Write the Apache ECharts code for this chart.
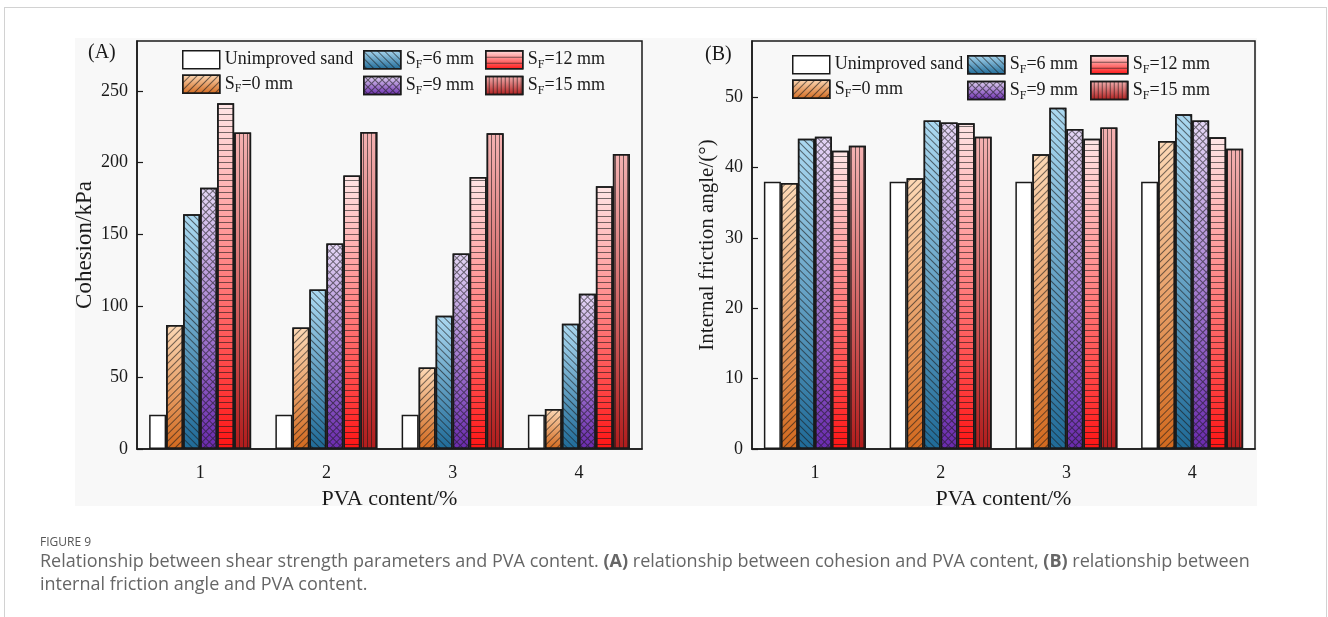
<!DOCTYPE html>
<html>
<head>
<meta charset="utf-8">
<script src="https://cdn.jsdelivr.net/npm/echarts@6/dist/echarts.min.js"></script>
<style>
  html, body { margin: 0; padding: 0; background: #ffffff; }
  #frame { position: absolute; left: 4px; top: 7px; width: 1323px; height: 660px; border: 1px solid #d2d2d2; box-sizing: border-box; }
  #chart { position: absolute; left: 0; top: 0; width: 1328px; height: 617px; }
</style>
</head>
<body>
<div id="frame"></div>
<div id="chart"></div>
<script>
// PVA content categories (x axis)
const pvaContent = ['1', '2', '3', '4'];

// Series names (SF = fibre length)
const seriesNames = ['Unimproved sand', 'SF=0 mm', 'SF=6 mm', 'SF=9 mm', 'SF=12 mm', 'SF=15 mm'];

// (A) Cohesion / kPa
const cohesionUnimproved = [24, 24, 24, 24];
const cohesionSF0  = [86.6, 84.8, 57, 28];
const cohesionSF6  = [164, 111.5, 93, 87.5];
const cohesionSF9  = [182.5, 143.5, 136.5, 108.5];
const cohesionSF12 = [241.5, 191, 190, 183.5];
const cohesionSF15 = [221, 221.5, 220.5, 206];

// (B) Internal friction angle / (°)
const frictionUnimproved = [38, 38, 38, 38];
const frictionSF0  = [37.8, 38.5, 41.9, 43.8];
const frictionSF6  = [44.1, 46.7, 48.5, 47.6];
const frictionSF9  = [44.4, 46.4, 45.5, 46.7];
const frictionSF12 = [42.4, 46.3, 44.1, 44.3];
const frictionSF15 = [43.1, 44.4, 45.7, 42.7];

const SERIF = 'Liberation Serif';
const INK = '#1a1a1a';
const HATCH = 'rgba(25,25,25,0.6)';

function vGrad(top, bottom) {
  return new echarts.graphic.LinearGradient(0, 0, 0, 1, [
    { offset: 0, color: top }, { offset: 1, color: bottom }
  ]);
}

// fill + hatch per series
const styles = [
  { color: '#ffffff', decal: null },
  { color: vGrad('#fdd9b6', '#d2691e'),
    decal: { symbol: 'rect', symbolSize: 1, color: HATCH, dashArrayX: [1, 0], dashArrayY: [1, 4], rotation: -Math.PI / 4 } },
  { color: vGrad('#acd9f1', '#1f6a97'),
    decal: { symbol: 'rect', symbolSize: 1, color: HATCH, dashArrayX: [1, 0], dashArrayY: [1, 4], rotation: Math.PI / 4 } },
  { color: vGrad('#e4d6f5', '#6a2aae'),
    decal: { symbol: 'rect', symbolSize: 1, color: HATCH, dashArrayX: [[5, 0], [1, 4], [1, 4], [1, 4], [1, 4]], dashArrayY: [1, 0], rotation: Math.PI / 4 } },
  { color: vGrad('#ffe6e6', '#ff1414'),
    decal: { symbol: 'rect', symbolSize: 1, color: HATCH, dashArrayX: [1, 0], dashArrayY: [1, 5], rotation: 0 } },
  { color: vGrad('#f4b2b2', '#b01c1c'),
    decal: { symbol: 'rect', symbolSize: 1, color: HATCH, dashArrayX: [1, 0], dashArrayY: [1, 3], rotation: Math.PI / 2 } }
];

function makeSeries(idx, values, axisIndex) {
  const st = styles[idx];
  const itemStyle = { color: st.color, borderColor: INK, borderWidth: 1.5 };
  if (st.decal) itemStyle.decal = st.decal;
  return {
    type: 'bar', name: seriesNames[idx], data: values,
    xAxisIndex: axisIndex, yAxisIndex: axisIndex,
    barWidth: 17, barGap: '0%', itemStyle: itemStyle,
    emphasis: { disabled: true }, animation: false
  };
}

const legendText = {
  fontFamily: SERIF, fontSize: 18, color: INK,
  rich: {
    m: { fontFamily: SERIF, fontSize: 18, color: INK, lineHeight: 22 },
    s: { fontFamily: SERIF, fontSize: 12, color: INK, verticalAlign: 'bottom' }
  }
};
function legendFormatter(name) {
  if (name.indexOf('SF') === 0) return '{m|S}{s|F}{m|' + name.slice(2) + '}';
  return '{m|' + name + '}';
}
function makeLegend(names, left, top) {
  return {
    orient: 'vertical', left: left, top: top, padding: 0, itemGap: 5,
    itemWidth: 37, itemHeight: 18, icon: 'rect', selectedMode: false,
    data: names, formatter: legendFormatter, textStyle: legendText,
    itemStyle: { borderColor: INK, borderWidth: 1.5 }
  };
}

function xAxisCfg(gridIndex) {
  return {
    type: 'category', gridIndex: gridIndex, data: pvaContent,
    name: 'PVA content/%', nameLocation: 'middle', nameGap: 39,
    nameTextStyle: { fontFamily: SERIF, fontSize: 22, color: INK },
    axisLine: { lineStyle: { color: INK, width: 1.5 } },
    axisTick: { inside: true, length: 4, lineStyle: { color: INK, width: 1.2 } },
    axisLabel: { fontFamily: SERIF, fontSize: 18, color: INK, margin: 15 },
    splitLine: { show: false }
  };
}
function yAxisCfg(gridIndex, name, max, interval, nameGap, nameSize) {
  return {
    type: 'value', gridIndex: gridIndex, min: 0, max: max, interval: interval,
    name: name, nameLocation: 'middle', nameGap: nameGap,
    nameTextStyle: { fontFamily: SERIF, fontSize: nameSize, color: INK },
    axisLine: { show: true, lineStyle: { color: INK, width: 1.5 } },
    axisTick: { show: true, inside: true, length: 6, lineStyle: { color: INK, width: 1.2 } },
    axisLabel: { fontFamily: SERIF, fontSize: 18, color: INK, margin: 9, showMaxLabel: false },
    splitLine: { show: false }
  };
}

const chart = echarts.init(document.getElementById('chart'), null, { renderer: 'canvas' });
chart.setOption({
  backgroundColor: 'transparent',
  animation: false,
  grid: [
    { left: 137, top: 41, width: 505, height: 408, show: true, borderColor: INK, borderWidth: 1.5, backgroundColor: 'transparent' },
    { left: 752, top: 41, width: 503, height: 408, show: true, borderColor: INK, borderWidth: 1.5, backgroundColor: 'transparent' }
  ],
  xAxis: [xAxisCfg(0), xAxisCfg(1)],
  yAxis: [
    yAxisCfg(0, 'Cohesion/kPa', 285, 50, 41, 23),
    yAxisCfg(1, 'Internal friction angle/(°)', 58, 10, 34, 21)
  ],
  legend: [
    makeLegend([seriesNames[0], seriesNames[1]], 182, 50),
    makeLegend([seriesNames[2], seriesNames[3]], 363, 50),
    makeLegend([seriesNames[4], seriesNames[5]], 485, 50),
    makeLegend([seriesNames[0], seriesNames[1]], 792, 55),
    makeLegend([seriesNames[2], seriesNames[3]], 967, 55),
    makeLegend([seriesNames[4], seriesNames[5]], 1090, 55)
  ],
  graphic: [
    { type: 'rect', z: -10, silent: true, shape: { x: 75, y: 38, width: 1182, height: 468 }, style: { fill: '#f8f8f8' } },
    { type: 'text', left: 88, top: 43, style: { text: '(A)', font: '20px "Liberation Serif"', fill: INK } },
    { type: 'text', left: 705, top: 45, style: { text: '(B)', font: '20px "Liberation Serif"', fill: INK } },
    { type: 'text', left: 40, top: 537, style: { text: 'FIGURE 9', font: '12px "Open Sans"', fill: '#555555' } },
    { type: 'text', left: 40, top: 551, style: {
        text: 'Relationship between shear strength parameters and PVA content. {b|(A)} relationship between cohesion and PVA content, {b|(B)} relationship between',
        font: '18px "Open Sans"', fill: '#666666', lineHeight: 22,
        rich: { b: { fontFamily: 'Open Sans', fontSize: 18, fontWeight: 'bold', color: '#555555', lineHeight: 22 } } } },
    { type: 'text', left: 40, top: 576, style: { text: 'internal friction angle and PVA content.', font: '18px "Open Sans"', fill: '#666666' } }
  ],
  series: [
    makeSeries(0, cohesionUnimproved, 0),
    makeSeries(1, cohesionSF0, 0),
    makeSeries(2, cohesionSF6, 0),
    makeSeries(3, cohesionSF9, 0),
    makeSeries(4, cohesionSF12, 0),
    makeSeries(5, cohesionSF15, 0),
    makeSeries(0, frictionUnimproved, 1),
    makeSeries(1, frictionSF0, 1),
    makeSeries(2, frictionSF6, 1),
    makeSeries(3, frictionSF9, 1),
    makeSeries(4, frictionSF12, 1),
    makeSeries(5, frictionSF15, 1)
  ]
});
</script>
</body>
</html>
